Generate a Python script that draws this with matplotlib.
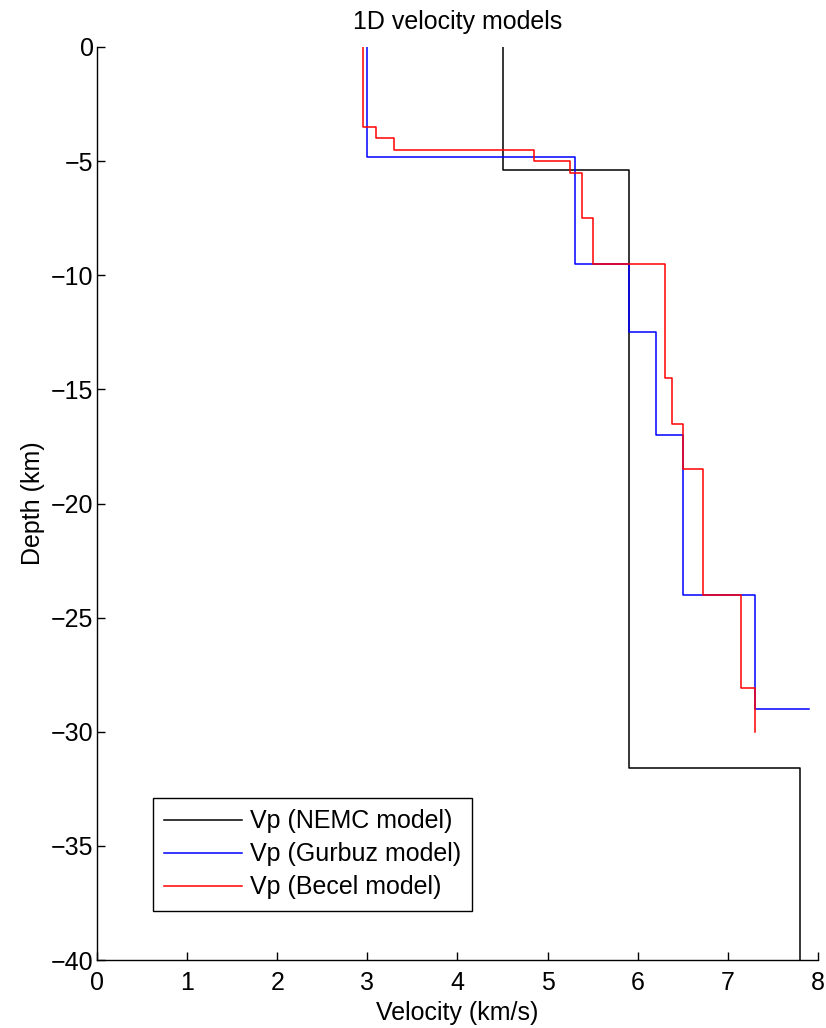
import numpy as np
import matplotlib
matplotlib.use("Agg")
import matplotlib.pyplot as plt

plt.rcParams['font.family'] = ['Liberation Sans', 'DejaVu Sans']

# Layered P-wave velocity models: velocity of each layer (km/s),
# depth to the top of each layer (km) and depth where the profile ends.
nemc_vp = [4.5, 5.9, 7.8]
nemc_top = [0.0, 5.4, 31.6]
nemc_end = 40.0

gurbuz_vp = [3.0, 5.3, 5.9, 6.2, 6.5, 7.3, 7.9]
gurbuz_top = [0.0, 4.8, 9.5, 12.5, 17.0, 24.0, 29.0]
gurbuz_end = 29.0

becel_vp = [2.95, 3.1, 3.3, 4.85, 5.25, 5.38, 5.5, 6.3, 6.38, 6.5, 6.72, 7.15, 7.3]
becel_top = [0.0, 3.5, 4.0, 4.5, 5.0, 5.5, 7.5, 9.5, 14.5, 16.5, 18.5, 24.0, 28.1]
becel_end = 30.0

labels = ['Vp (NEMC model)', 'Vp (Gurbuz model)', 'Vp (Becel model)']
colors = ['black', 'blue', 'red']

x_ticks = list(range(0, 9))
y_ticks = list(range(0, -45, -5))

FS = 18


def step_profile(vp, top, end):
    """Return x, y points of a staircase velocity-depth profile (depth negative)."""
    bottoms = list(top[1:]) + [end]
    xs, ys = [], []
    for v, t, b in zip(vp, top, bottoms):
        xs += [v, v]
        ys += [-t, -b]
    return np.array(xs), np.array(ys)


fig = plt.figure(figsize=(8.26, 10.28), dpi=100)
ax = fig.add_axes([0.1174, 0.0661, 0.9903 - 0.1174, 0.9543 - 0.0661])

models = [(nemc_vp, nemc_top, nemc_end),
          (gurbuz_vp, gurbuz_top, gurbuz_end),
          (becel_vp, becel_top, becel_end)]
for (vp, top, end), lab, col in zip(models, labels, colors):
    x, y = step_profile(vp, top, end)
    ax.plot(x, y, color=col, linewidth=1.1, label=lab)

ax.set_xlim(0, 8)
ax.set_ylim(-40, 0)
ax.set_xticks(x_ticks)
ax.set_yticks(y_ticks)
ax.spines['top'].set_visible(False)
ax.spines['right'].set_visible(False)
for s in ('left', 'bottom'):
    ax.spines[s].set_linewidth(1.0)
ax.tick_params(direction='in', length=5.5, width=1.0, labelsize=FS)
ax.tick_params(axis='y', pad=2.5)
ax.tick_params(axis='x', pad=8)

ax.set_xlabel('Velocity (km/s)', fontsize=FS, labelpad=4)
ax.set_ylabel('Depth (km)', fontsize=FS, labelpad=4)
ax.set_title('1D velocity models', fontsize=FS, pad=13)

leg = ax.legend(loc='lower left', bbox_to_anchor=(0.078, 0.054), borderaxespad=0,
                fontsize=FS, handlelength=3.1, handletextpad=0.32,
                labelspacing=0.36, fancybox=False, framealpha=1,
                edgecolor='black', borderpad=0.45)
leg.get_frame().set_linewidth(1.0)

fig.savefig('out.png', dpi=100)
